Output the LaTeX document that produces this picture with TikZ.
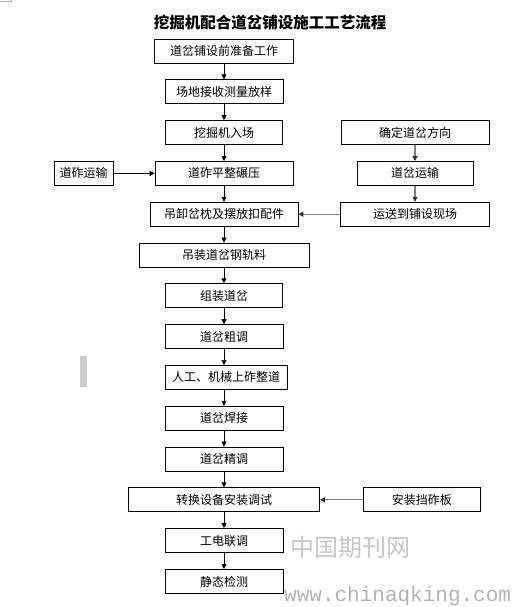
\documentclass[tikz,border=0pt]{standalone}
\usepackage{fontspec}
\usepackage{xcolor}
\usetikzlibrary{arrows.meta,positioning,calc}
\newfontfamily\cjk{Noto Sans CJK SC}
\newfontfamily\markmono{Liberation Mono}
\definecolor{linkgray}{HTML}{808080}
\tikzset{
  proc/.style={draw, line width=0.8pt, minimum height=24pt, inner sep=2pt,
               font=\cjk\fontsize{12}{14}\selectfont},
  procarrow/.style={-{Triangle[length=5pt,width=5pt]}, line width=0.7pt},
  feedarrow/.style={-{Triangle[length=5pt,width=5pt,color=black!80]}, line width=1.2pt, draw=linkgray}
}
\begin{document}
\begin{tikzpicture}[x=1pt, y=1pt, node distance=16pt and 40pt]
\useasboundingbox (0,0) rectangle (516,-607);
% title
\node[font=\cjk\bfseries\fontsize{15.5}{18}\selectfont] (title) at (270,-23) {挖掘机配合道岔铺设施工工艺流程};
% main column
\node[proc, minimum width=139pt] (m1) at (224,-51) {道岔铺设前准备工作};
\node[proc, minimum width=118pt, below=of m1] (m2) {场地接收测量放样};
\node[proc, minimum width=117pt, below=of m2] (m3) {挖掘机入场};
\node[proc, minimum width=138pt, below=of m3] (m4) {道砟平整碾压};
\node[proc, minimum width=148pt, below=of m4] (m5) {吊卸岔枕及摆放扣配件};
\node[proc, minimum width=170pt, below=of m5] (m6) {吊装道岔钢轨料};
\node[proc, minimum width=117pt, below=of m6] (m7) {组装道岔};
\node[proc, minimum width=118pt, below=of m7] (m8) {道岔粗调};
\node[proc, minimum width=122pt, below=of m8, xshift=2pt] (m9) {人工、机械上砟整道};
\node[proc, minimum width=118pt, below=of m9, xshift=-2pt] (m10) {道岔焊接};
\node[proc, minimum width=118pt, below=of m10] (m11) {道岔精调};
\node[proc, minimum width=191pt, below=of m11] (m12) {转换设备安装调试};
\node[proc, minimum width=118pt, below=of m12] (m13) {工电联调};
\node[proc, minimum width=118pt, below=of m13] (m14) {静态检测};
% side boxes
\coordinate (rcol) at (415,0);
\node[proc, minimum width=148pt] (r1) at (m3 -| rcol) {确定道岔方向};
\node[proc, minimum width=116pt] (r2) at (m4 -| rcol) {道岔运输};
\node[proc, minimum width=149pt] (r3) at (m5 -| rcol) {运送到铺设现场};
\node[proc, minimum width=59pt, left=41pt of m4] (l1) {道砟运输};
\node[proc, minimum width=117pt, right=43pt of m12] (r4) {安装挡砟板};
% arrows
\foreach \a/\b in {m1/m2,m2/m3,m3/m4,m4/m5,m5/m6,m6/m7,m7/m8,m8/m9,m9/m10,m10/m11,m11/m12,m12/m13,m13/m14}
  \draw[procarrow] (\a.south -| m1) -- (\b.north -| m1);
\draw[procarrow] (l1) -- (m4);
\draw[feedarrow] (r1) -- (r2);
\draw[feedarrow] (r2) -- (r3);
\draw[feedarrow] (r3) -- (m5);
\draw[feedarrow] (r4) -- (m12);
% scan marks and watermark
\fill[gray!40] (80,-356) rectangle (87,-387);
\draw[gray!60, line width=0.5pt] (0,-1) -- (11,-1) -- (11,0);
\node[text=gray!45, font=\cjk\fontsize{24}{26}\selectfont, inner sep=0pt] (wm1) at (350,-547) {中国期刊网};
\node[text=gray!60, font=\markmono\fontsize{21}{22}\selectfont, anchor=base west, inner sep=0pt] (wm2) at (284,-601) {www.chinaqking.com};
\end{tikzpicture}
\end{document}
